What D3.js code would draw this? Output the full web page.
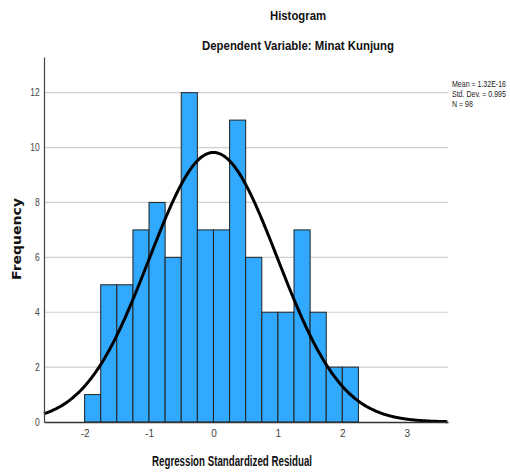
<!DOCTYPE html>
<html>
<head>
<meta charset="utf-8">
<script src="https://cdn.jsdelivr.net/npm/d3@7"></script>
<style>
  body { margin: 0; background: #fff; }
  text { font-family: "Liberation Sans", Arial, sans-serif; }
</style>
</head>
<body>
<div id="container"></div>
<script>
/* DATA */
const binStarts = [-2, -1.75, -1.5, -1.25, -1, -0.75, -0.5, -0.25, 0, 0.25, 0.5, 0.75, 1, 1.25, 1.5, 1.75, 2];
const counts = [1, 5, 5, 7, 8, 6, 12, 7, 7, 11, 6, 4, 4, 7, 4, 2, 2];
const binWidth = 0.25;
const xTicks = [-2, -1, 0, 1, 2, 3];
const yTicks = [0, 2, 4, 6, 8, 10, 12];
const stats = {mean: 1.32e-16, sd: 0.995, n: 98};
const legendLines = ["Mean = 1.32E-16", "Std. Dev. = 0.995", "N = 98"];

/* CONSTANTS */
const W = 510, H = 472;
const margin = {top: 57, right: 62, bottom: 50, left: 44};
const width = W - margin.left - margin.right;
const height = H - margin.top - margin.bottom;

const svg = d3.select("#container")
  .append("svg")
    .attr("width", W)
    .attr("height", H);

const g = svg.append("g")
  .attr("transform", "translate(" + margin.left + "," + margin.top + ")");

const x = d3.scaleLinear()
  .domain([-2.63, 3.64])
  .range([0, width]);

const y = d3.scaleLinear()
  .domain([0, 13.3])
  .range([height, 0]);

/* GRIDLINES */
g.selectAll("line.grid")
  .data(yTicks.filter(d => d > 0))
  .join("line")
  .attr("class", "grid")
  .attr("x1", 0)
  .attr("x2", width)
  .attr("y1", d => y(d))
  .attr("y2", d => y(d))
  .attr("stroke", "#cfcfcf")
  .attr("stroke-width", 1.2);

/* BARS */
g.selectAll("rect.bar")
  .data(counts)
  .join("rect")
  .attr("class", "bar")
  .attr("x", (d, i) => x(binStarts[i]))
  .attr("y", d => y(d))
  .attr("width", (d, i) => x(binStarts[i] + binWidth) - x(binStarts[i]))
  .attr("height", d => y(0) - y(d))
  .attr("fill", "#30a9ff")
  .attr("stroke", "#222")
  .attr("stroke-width", 1);

/* NORMAL CURVE */
const peak = stats.n * binWidth / (stats.sd * Math.sqrt(2 * Math.PI));
const curveX = d3.range(x.domain()[0], x.domain()[1] + 0.001, 0.02);
const line = d3.line()
  .x(d => x(d))
  .y(d => y(peak * Math.exp(-0.5 * Math.pow((d - stats.mean) / stats.sd, 2))))
  .curve(d3.curveBasis);
g.append("path")
  .datum(curveX)
  .attr("d", line)
  .attr("fill", "none")
  .attr("stroke", "#000")
  .attr("stroke-width", 3);

/* AXES */
const yAxis = d3.axisLeft(y).tickValues(yTicks).tickSize(0).tickPadding(5).tickFormat(d3.format("d"));
const yG = g.append("g").call(yAxis);
yG.select(".domain").attr("stroke", "#444").attr("stroke-width", 1.2);
yG.selectAll("text").attr("fill", "#444").style("font-size", "10px")
  .attr("transform", "scale(0.85,1)");

const xAxis = d3.axisBottom(x).tickValues(xTicks).tickSize(0).tickPadding(8)
  .tickFormat(d => d3.format("d")(d).replace("−", "-"));
const xG = g.append("g")
  .attr("transform", "translate(0," + height + ")")
  .call(xAxis);
xG.select(".domain").attr("stroke", "#333").attr("stroke-width", 1.5);
xG.selectAll("text").attr("fill", "#444").style("font-size", "10px");

/* TITLES */
svg.append("text")
  .attr("x", 298)
  .attr("y", 20)
  .attr("text-anchor", "middle")
  .style("font-size", "13px")
  .attr("font-weight", "bold")
  .attr("textLength", 56)
  .attr("lengthAdjust", "spacingAndGlyphs")
  .attr("fill", "#111")
  .text("Histogram");

svg.append("text")
  .attr("x", 298)
  .attr("y", 50)
  .attr("text-anchor", "middle")
  .style("font-size", "13px")
  .attr("font-weight", "bold")
  .attr("textLength", 192)
  .attr("lengthAdjust", "spacingAndGlyphs")
  .attr("fill", "#111")
  .text("Dependent Variable: Minat Kunjung");

svg.append("text")
  .attr("x", 232)
  .attr("y", 466)
  .attr("text-anchor", "middle")
  .style("font-size", "14px")
  .attr("font-weight", "bold")
  .attr("textLength", 160)
  .attr("lengthAdjust", "spacingAndGlyphs")
  .attr("fill", "#111")
  .text("Regression Standardized Residual");

svg.append("text")
  .attr("transform", "translate(21,239) rotate(-90)")
  .attr("text-anchor", "middle")
  .style("font-family", "'DejaVu Sans', sans-serif")
  .style("font-size", "12px")
  .attr("font-weight", "bold")
  .attr("textLength", 82)
  .attr("lengthAdjust", "spacingAndGlyphs")
  .attr("fill", "#111")
  .text("Frequency");

/* LEGEND */
svg.selectAll("text.legend")
  .data(legendLines)
  .join("text")
  .attr("class", "legend")
  .attr("x", 452)
  .attr("y", (d, i) => 87 + i * 10)
  .style("font-size", "9px")
  .attr("fill", "#222")
  .attr("transform", "translate(452,0) scale(0.78,1) translate(-452,0)")
  .text(d => d);
</script>
</body>
</html>
